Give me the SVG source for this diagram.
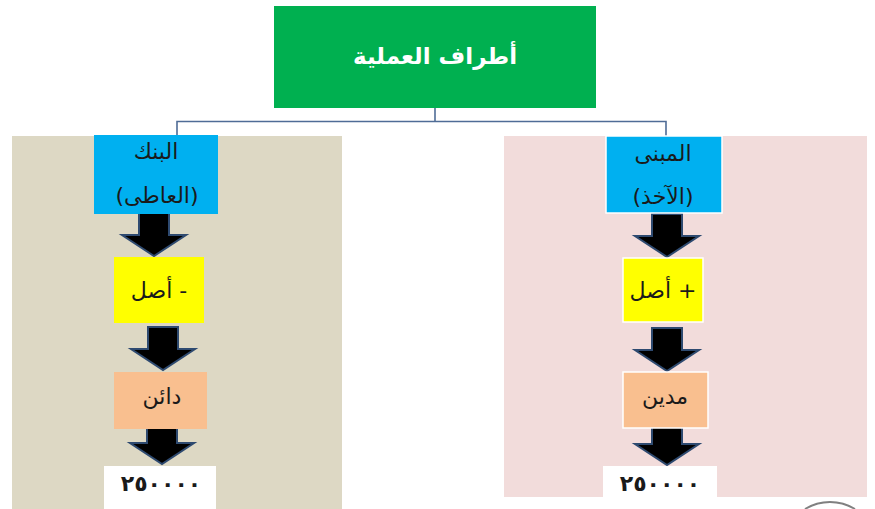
<svg xmlns="http://www.w3.org/2000/svg" width="875" height="509" viewBox="0 0 875 509">
  <style>
    .t { font-family: "DejaVu Sans", "Noto Sans", sans-serif; fill: #1a1a1a; text-anchor: middle; font-size: 22px; }
    .title { font-family: "DejaVu Sans", "Noto Sans", sans-serif; fill: #ffffff; font-weight: bold; font-size: 23px; text-anchor: middle; }
    .conn { stroke: #4f6c96; stroke-width: 1.6; fill: none; }
    .arrow { fill: #000000; stroke: #2e4a70; stroke-width: 2; stroke-linejoin: miter; }
    .blue { fill: #00b0f0; }
    .yellow { fill: #ffff00; }
    .orange { fill: #f9bf8f; }
    .white { fill: #ffffff; }
    .wb { stroke: #ffffff; stroke-width: 1.5; }
    .num { font-weight: bold; font-size: 22px; letter-spacing: 4px; }
  </style>
  <defs>
    <path id="arr" d="M -15,-43 H 15 V -21 H 32 L 0,0 L -32,-21 H -15 Z"/>
  </defs>

  <!-- background panels -->
  <rect id="panel-left" x="12" y="136" width="330" height="373" fill="#ddd8c4"/>
  <rect id="panel-right" x="504" y="136" width="363" height="361" fill="#f2dcdb"/>

  <!-- connectors -->
  <g id="connectors">
    <polyline class="conn" points="435,108 435,121.5"/>
    <polyline class="conn" points="177,135 177,121.5 666,121.5 666,136"/>
    <use href="#arr" class="arrow" transform="translate(154,256)"/>
    <use href="#arr" class="arrow" transform="translate(163,370)"/>
    <use href="#arr" class="arrow" transform="translate(162,464)"/>
    <use href="#arr" class="arrow" transform="translate(667,257)"/>
    <use href="#arr" class="arrow" transform="translate(667,371)"/>
    <use href="#arr" class="arrow" transform="translate(667,465)"/>
  </g>

  <g id="root">
    <rect x="274" y="6" width="322" height="102" fill="#00b050"/>
    <text class="title" x="435" y="64" direction="rtl">أطراف العملية</text>
  </g>

  <g id="bank">
    <rect class="blue" x="94" y="135" width="124" height="79"/>
    <text class="t" x="156" y="159" direction="rtl">البنك</text>
    <text class="t" x="157" y="203" direction="rtl">(العاطى)</text>
  </g>
  <g id="asset-minus">
    <rect class="yellow" x="114" y="257" width="90" height="66"/>
    <text class="t" x="159" y="298" direction="rtl">- أصل</text>
  </g>
  <g id="creditor">
    <rect class="orange" x="114" y="372" width="93" height="57"/>
    <text class="t" x="162" y="404" direction="rtl">دائن</text>
  </g>
  <g id="amount-left">
    <rect class="white" x="104" y="466" width="112" height="43"/>
    <text class="t num" x="161" y="491">٢٥٠٠٠٠</text>
  </g>

  <g id="borrower">
    <rect class="blue wb" x="606" y="136" width="116" height="77"/>
    <text class="t" x="663" y="161" direction="rtl">المبنى</text>
    <text class="t" x="663" y="204" direction="rtl">(الآخذ)</text>
  </g>
  <g id="asset-plus">
    <rect class="yellow wb" x="623" y="258" width="80" height="64"/>
    <text class="t" x="663" y="298" direction="rtl">+ أصل</text>
  </g>
  <g id="debtor">
    <rect class="orange wb" x="623" y="372" width="85" height="56"/>
    <text class="t" x="665" y="404" direction="rtl">مدين</text>
  </g>
  <g id="amount-right">
    <rect class="white" x="603" y="466" width="114" height="31"/>
    <text class="t num" x="660" y="491">٢٥٠٠٠٠</text>
  </g>

  <path d="M 805,509 A 48,48 0 0 1 855,509" fill="none" stroke="#808080" stroke-width="2"/>
</svg>
